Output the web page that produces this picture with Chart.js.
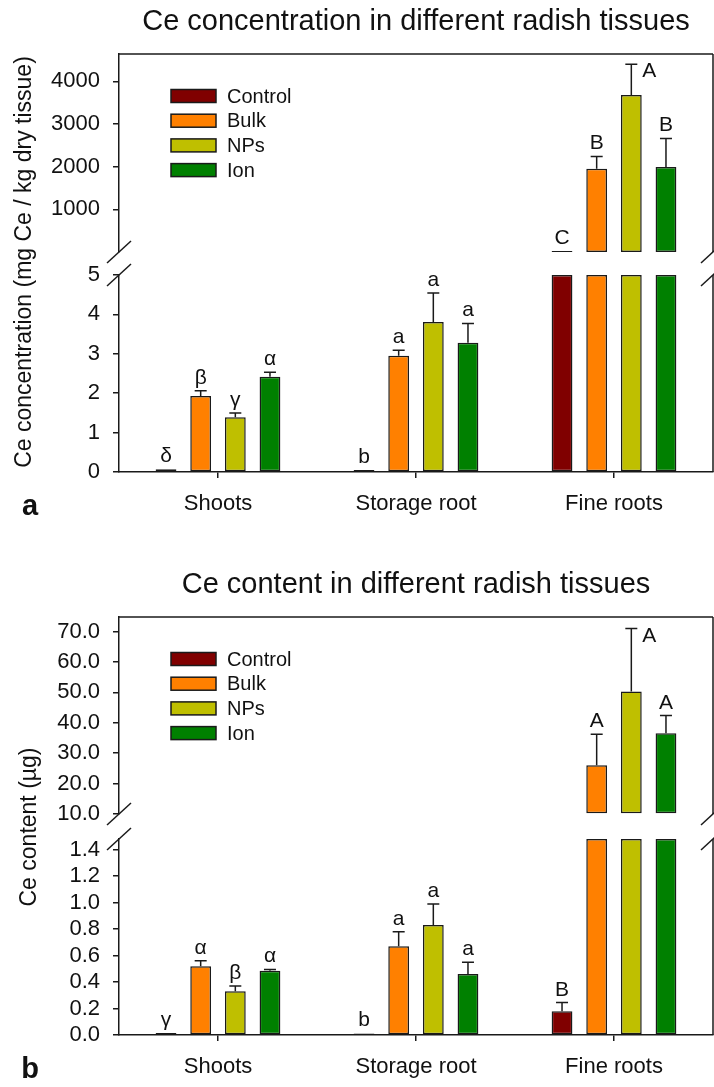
<!DOCTYPE html>
<html>
<head>
<meta charset="utf-8">
<script src="https://cdn.jsdelivr.net/npm/chart.js@4.4.1/dist/chart.umd.min.js"></script>
<style>
  html, body { margin: 0; padding: 0; background: #fff; }
  #wrap { position: relative; width: 714px; height: 1087px; }
  #wrap canvas { position: absolute; left: 0; }
</style>
</head>
<body>
<div id="wrap">
  <canvas id="aLow"  width="714" height="530" style="top:0"></canvas>
  <canvas id="aHigh" width="714" height="282" style="top:0"></canvas>
  <canvas id="bLow"  width="714" height="539" style="top:548px"></canvas>
  <canvas id="bHigh" width="714" height="296" style="top:548px"></canvas>
</div>
<script>
/* ---------- data ---------- */
const CATEGORIES = ['Shoots', 'Storage root', 'Fine roots'];
const TREATMENTS = ['Control', 'Bulk', 'NPs', 'Ion'];
const COLORS     = ['#800000', '#ff8000', '#bfbf00', '#008000'];

// (a) Ce concentration, mg Ce / kg dry tissue
const CONC_CONTROL     = [0.07, 0.05, 25];
const CONC_BULK        = [1.93, 2.95, 1950];
const CONC_NPS         = [1.39, 3.81, 3680];
const CONC_ION         = [2.42, 3.28, 1990];
const CONC_CONTROL_ERR = [0, 0, 0];
const CONC_BULK_ERR    = [0.13, 0.14, 290];
const CONC_NPS_ERR     = [0.11, 0.73, 720];
const CONC_ION_ERR     = [0.11, 0.49, 670];
const CONC_CONTROL_LET = ['δ', 'b', 'C'];
const CONC_BULK_LET    = ['β', 'a', 'B'];
const CONC_NPS_LET     = ['γ', 'a', 'A'];
const CONC_ION_LET     = ['α', 'a', 'B'];
const CONC_LOW_TICKS   = [0, 1, 2, 3, 4, 5];
const CONC_HIGH_TICKS  = [1000, 2000, 3000, 4000];

// (b) Ce content, µg
const CONT_CONTROL     = [0.015, 0.012, 0.18];
const CONT_BULK        = [0.52, 0.67, 26.0];
const CONT_NPS         = [0.33, 0.83, 50.3];
const CONT_ION         = [0.485, 0.46, 36.6];
const CONT_CONTROL_ERR = [0, 0, 0.065];
const CONT_BULK_ERR    = [0.04, 0.11, 10.2];
const CONT_NPS_ERR     = [0.04, 0.16, 20.7];
const CONT_ION_ERR     = [0.01, 0.09, 5.8];
const CONT_CONTROL_LET = ['γ', 'b', 'B'];
const CONT_BULK_LET    = ['α', 'a', 'A'];
const CONT_NPS_LET     = ['β', 'a', 'A'];
const CONT_ION_LET     = ['α', 'a', 'A'];
const CONT_LOW_TICKS   = [0, 0.2, 0.4, 0.6, 0.8, 1.0, 1.2, 1.4];
const CONT_HIGH_TICKS  = [10, 20, 30, 40, 50, 60, 70];

/* ---------- look ---------- */
const FONT = 'Arial, "Liberation Sans", sans-serif';
const EDGE = '#1a1a1a';
const INK  = '#111';

/* ---------- plugin: frame, breaks, error bars, letters, legend, titles ---------- */
const brokenAxis = {
  id: 'brokenAxis',
  afterDatasetsDraw(chart, args, o) {
    const { ctx, chartArea: a, scales: { y } } = chart;
    ctx.save();
    ctx.strokeStyle = EDGE; ctx.lineWidth = 1.5;
    ctx.fillStyle = INK; ctx.font = `21px ${FONT}`;
    chart.data.datasets.forEach((ds, i) => {
      chart.getDatasetMeta(i).data.forEach((bar, j) => {
        const v = ds.full[j];
        const here = o.part === 'low' ? v <= o.split : v > o.split;
        if (!here) return;
        const e = ds.err[j];
        const top = y.getPixelForValue(v + e);
        if (e > 0) {
          const yv = y.getPixelForValue(v);
          ctx.beginPath();
          ctx.moveTo(bar.x, yv); ctx.lineTo(bar.x, top);
          ctx.moveTo(bar.x - 6, top); ctx.lineTo(bar.x + 6, top);
          ctx.stroke();
        }
        const t = ds.letters[j];
        ctx.textBaseline = 'alphabetic';
        if (o.part === 'high' && top - 7 - 16 < a.top) {
          // no room above the frame: letter goes beside the cap
          ctx.textAlign = 'left';
          ctx.fillText(t, bar.x + 11, top + 13);
        } else {
          ctx.textAlign = 'center';
          ctx.fillText(t, bar.x, top - 7);
        }
      });
    });
    ctx.restore();
  },
  afterDraw(chart, args, o) {
    const { ctx, chartArea: a } = chart;
    const line = (x1, y1, x2, y2) => { ctx.beginPath(); ctx.moveTo(x1, y1); ctx.lineTo(x2, y2); ctx.stroke(); };
    ctx.save();
    ctx.strokeStyle = EDGE; ctx.lineWidth = 1.5;
    line(a.right, a.top, a.right, a.bottom);
    if (o.part === 'high') line(a.left, a.top, a.right, a.top);
    const yb = o.part === 'low' ? a.top : a.bottom;
    [a.left, a.right].forEach(x => line(x - 12, yb + 11, x + 12, yb - 11));

    ctx.fillStyle = INK;
    if (o.part === 'high') {
      // title
      ctx.font = `29px ${FONT}`; ctx.textAlign = 'center'; ctx.textBaseline = 'alphabetic';
      ctx.fillText(o.title, (a.left + a.right) / 2, a.top - 24);
      // legend
      ctx.font = `20px ${FONT}`; ctx.textAlign = 'left'; ctx.textBaseline = 'middle';
      chart.data.datasets.forEach((ds, i) => {
        const ry = a.top + 42 + i * 24.7;
        ctx.fillStyle = ds.backgroundColor;
        ctx.fillRect(171, ry - 6.5, 45, 13);
        ctx.strokeRect(171, ry - 6.5, 45, 13);
        ctx.fillStyle = INK;
        ctx.fillText(ds.label, 227, ry + 1);
      });
    } else {
      // y title spanning both sections
      ctx.font = `23px ${FONT}`; ctx.textAlign = 'center'; ctx.textBaseline = 'middle';
      ctx.save();
      ctx.translate(o.yTitleX, o.yTitleY);
      ctx.rotate(-Math.PI / 2);
      ctx.fillText(o.yTitle, 0, 0);
      ctx.restore();
      // panel letter
      ctx.font = `bold 29px ${FONT}`; ctx.textAlign = 'center'; ctx.textBaseline = 'alphabetic';
      ctx.fillText(o.panel, 30, o.panelY);
    }
    ctx.restore();
  }
};

/* ---------- one chart per axis section ---------- */
function sectionChart(id, o) {
  const low = o.part === 'low';
  return new Chart(document.getElementById(id), {
    type: 'bar',
    data: {
      labels: CATEGORIES,
      datasets: o.series.map((s, i) => ({
        label: TREATMENTS[i],
        data: s.values.map(v => low ? Math.min(v, o.split) : (v > o.split ? v : null)),
        full: s.values, err: s.err, letters: s.letters,
        backgroundColor: COLORS[i],
        borderColor: EDGE, borderWidth: 1.5, borderSkipped: false,
        base: low ? 0 : o.min,
        categoryPercentage: 0.7, barPercentage: 0.6
      }))
    },
    options: {
      responsive: false, animation: false, devicePixelRatio: 1,
      layout: { padding: { top: o.padTop, bottom: o.padBottom, left: 0, right: 1 } },
      plugins: {
        legend: { display: false }, tooltip: { enabled: false },
        brokenAxis: o
      },
      scales: {
        x: low ? {
          offset: true,
          afterFit: s => { s.height = o.xHeight; },
          ticks: { font: { family: FONT, size: 22 }, color: INK, padding: 13, maxRotation: 0 },
          grid: { display: true, drawOnChartArea: false, offset: false, tickLength: 6, color: EDGE, lineWidth: 1.5 },
          border: { display: true, color: EDGE, width: 1.5 }
        } : { display: false },
        y: {
          min: o.min, max: o.max,
          afterFit: s => { s.width = 119; },
          afterBuildTicks: s => { s.ticks = o.ticks.map(value => ({ value })); },
          ticks: { font: { family: FONT, size: 22 }, color: INK, padding: 13, autoSkip: false, callback: o.fmt },
          grid: { display: true, drawOnChartArea: false, tickLength: 6, color: EDGE, lineWidth: 1.5 },
          border: { display: true, color: EDGE, width: 1.5 }
        }
      }
    },
    plugins: [brokenAxis]
  });
}

const concSeries = [
  { values: CONC_CONTROL, err: CONC_CONTROL_ERR, letters: CONC_CONTROL_LET },
  { values: CONC_BULK,    err: CONC_BULK_ERR,    letters: CONC_BULK_LET },
  { values: CONC_NPS,     err: CONC_NPS_ERR,     letters: CONC_NPS_LET },
  { values: CONC_ION,     err: CONC_ION_ERR,     letters: CONC_ION_LET }
];
const contSeries = [
  { values: CONT_CONTROL, err: CONT_CONTROL_ERR, letters: CONT_CONTROL_LET },
  { values: CONT_BULK,    err: CONT_BULK_ERR,    letters: CONT_BULK_LET },
  { values: CONT_NPS,     err: CONT_NPS_ERR,     letters: CONT_NPS_LET },
  { values: CONT_ION,     err: CONT_ION_ERR,     letters: CONT_ION_LET }
];

/* (a) */
sectionChart('aLow', {
  part: 'low', series: concSeries, split: 5, min: 0, max: 5, ticks: CONC_LOW_TICKS,
  fmt: v => String(v), padTop: 275, padBottom: 0, xHeight: 58,
  yTitle: 'Ce concentration (mg Ce / kg dry tissue)', yTitleX: 25, yTitleY: 262,
  panel: 'a', panelY: 515
});
sectionChart('aHigh', {
  part: 'high', series: concSeries, split: 5, min: 0, max: 4640, ticks: CONC_HIGH_TICKS,
  fmt: v => String(v), padTop: 54, padBottom: 30,
  title: 'Ce concentration in different radish tissues'
});

/* (b) */
sectionChart('bLow', {
  part: 'low', series: contSeries, split: 1.48, min: 0, max: 1.48, ticks: CONT_LOW_TICKS,
  fmt: v => v.toFixed(1), padTop: 291, padBottom: 0, xHeight: 52,
  yTitle: 'Ce content (µg)', yTitleX: 30, yTitleY: 279,
  panel: 'b', panelY: 530
});
sectionChart('bHigh', {
  part: 'high', series: contSeries, split: 1.48, min: 10, max: 74.8, ticks: CONT_HIGH_TICKS,
  fmt: v => v.toFixed(1), padTop: 69, padBottom: 30,
  title: 'Ce content in different radish tissues'
});
</script>
</body>
</html>
